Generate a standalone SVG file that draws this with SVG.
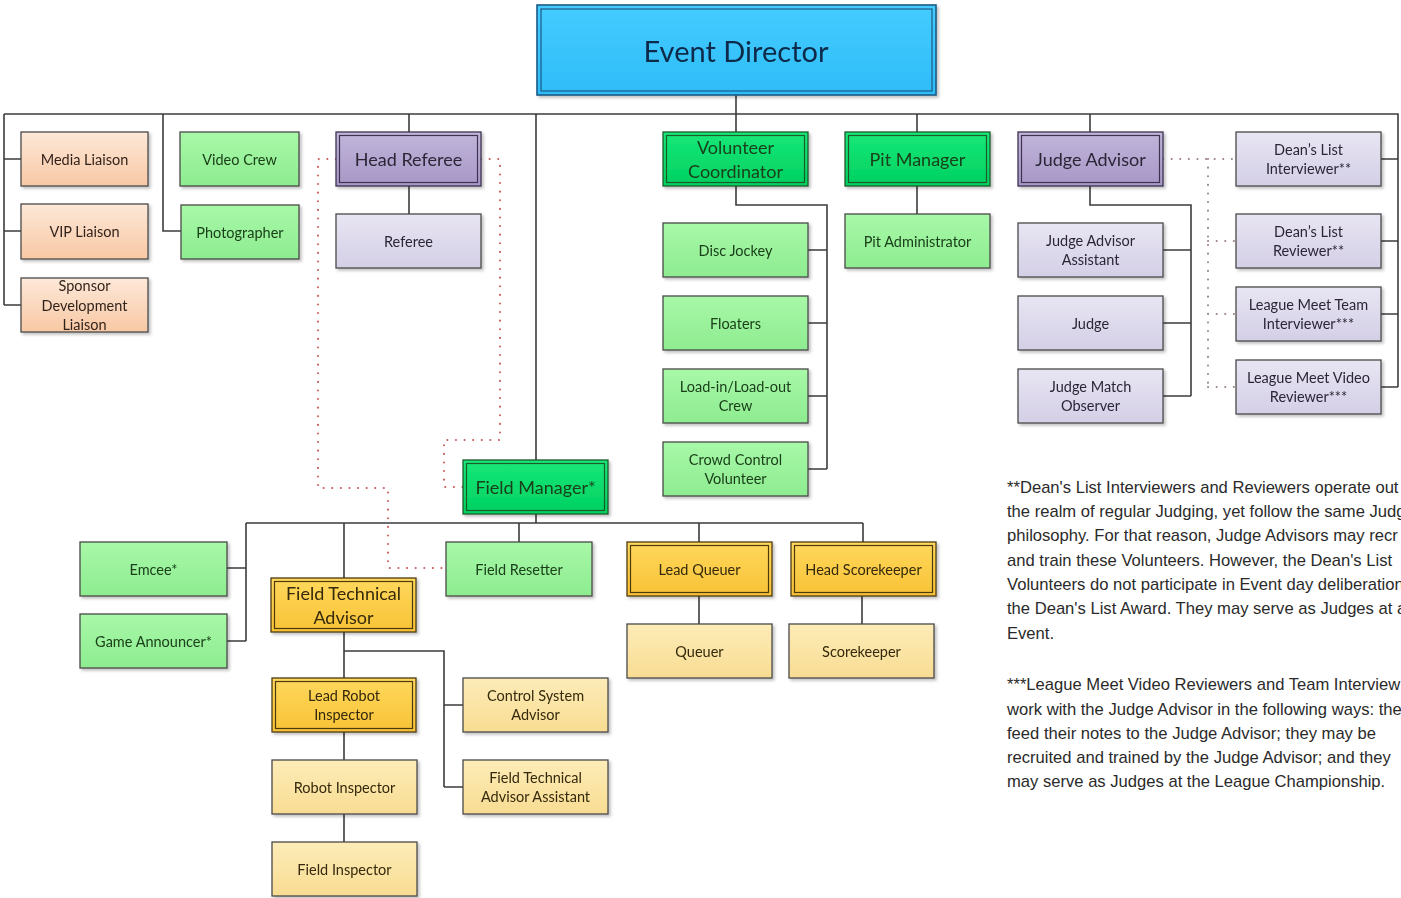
<svg xmlns="http://www.w3.org/2000/svg" width="1401" height="898" viewBox="0 0 1401 898">
<style>
.bx{stroke:#4a4a4a;stroke-width:1.3}
.in{fill:none;stroke-width:1.2}
.t{font-family:Lato,"Liberation Sans",sans-serif;font-size:14.5px;text-anchor:middle;dominant-baseline:central}
.h{font-size:18px}
.peach{fill:url(#gPeach)}
.lg{fill:url(#gLG)}
.dg{fill:url(#gDG);stroke:#1d5a2a}
.pu{fill:url(#gPU);stroke:#3d3350}
.lp{fill:url(#gLP)}
.or{fill:url(#gOR);stroke:#4d3b10}
.lo{fill:url(#gLO)}
.tg{fill:#1a401a}
.tp{fill:#2a2636}
.to{fill:#34290c}
.tb{fill:#33241c}
.c{fill:none;stroke:#3c3c3c;stroke-width:1.6}
.d{fill:none;stroke:#c85a5a;stroke-width:2;stroke-dasharray:0.1 8.5;stroke-linecap:round}
.dj{fill:none;stroke:#9a8080;stroke-width:2;stroke-dasharray:0.1 8.5;stroke-linecap:round}
.note{font-family:"Liberation Sans",Arial,sans-serif;font-size:16.6px;fill:#2a2a2a}
</style>
<defs>
<linearGradient id="gPeach" x1="0" y1="0" x2="0" y2="1"><stop offset="0" stop-color="#fde8d8"/><stop offset="1" stop-color="#f8c8a4"/></linearGradient>
<linearGradient id="gLG" x1="0" y1="0" x2="0" y2="1"><stop offset="0" stop-color="#a8f8a8"/><stop offset="1" stop-color="#8eec90"/></linearGradient>
<linearGradient id="gDG" x1="0" y1="0" x2="0" y2="1"><stop offset="0" stop-color="#16e878"/><stop offset="1" stop-color="#00d060"/></linearGradient>
<linearGradient id="gPU" x1="0" y1="0" x2="0" y2="1"><stop offset="0" stop-color="#c2b6da"/><stop offset="1" stop-color="#a696c6"/></linearGradient>
<linearGradient id="gLP" x1="0" y1="0" x2="0" y2="1"><stop offset="0" stop-color="#e8e5f3"/><stop offset="1" stop-color="#d4cfe6"/></linearGradient>
<linearGradient id="gOR" x1="0" y1="0" x2="0" y2="1"><stop offset="0" stop-color="#ffd85c"/><stop offset="1" stop-color="#f8c236"/></linearGradient>
<linearGradient id="gLO" x1="0" y1="0" x2="0" y2="1"><stop offset="0" stop-color="#fdecb8"/><stop offset="1" stop-color="#f8dc92"/></linearGradient>
<linearGradient id="gED" x1="0" y1="0" x2="0" y2="1"><stop offset="0" stop-color="#44ccff"/><stop offset="1" stop-color="#2ebcf8"/></linearGradient>
<filter id="sh" x="-10%" y="-10%" width="130%" height="140%"><feDropShadow dx="2" dy="2" stdDeviation="1.5" flood-color="#000" flood-opacity="0.25"/></filter>
</defs>
<rect width="1401" height="898" fill="#ffffff"/>

<g id="connectors">
<path class="c" d="M736,95 V114 M4,114 H1398 V387 M1381,159 H1398 M1381,241 H1398 M1381,314 H1398 M1381,387 H1398"/>
<path class="c" d="M4,114 V305 M4,159 H21 M4,231 H21 M4,305 H21 M163,114 V231 H181"/>
<path class="c" d="M409,114 V132 M409,186 V214 M536,114 V460"/>
<path class="c" d="M736,114 V132 M736,186 V205 H827 V469 M808,250 H827 M808,323 H827 M808,396 H827 M808,469 H827"/>
<path class="c" d="M917,114 V132 M917,186 V214"/>
<path class="c" d="M1090,114 V132 M1090,186 V205 H1191 V396 M1163,250 H1191 M1163,323 H1191 M1163,396 H1191"/>
<path class="c" d="M536,514 V523 M246,523 H863 M246,523 V641 M227,568 H246 M227,641 H246"/>
<path class="c" d="M344,523 V578 M519,523 V542 M699,523 V542 M863,523 V542 M699,596 V624 M862,596 V624"/>
<path class="c" d="M344,632 V678 M344,651 H444 V787 M444,705 H463 M444,787 H463 M344,732 V760 M344,814 V842"/>
<path class="d" d="M336,159 H318 V488 H388 V568 H446"/>
<path class="d" d="M481,159 H500 V440 H444 V487 H463"/>
<path class="dj" d="M1163,159 H1236 M1208,159 V387 M1208,241 H1236 M1208,314 H1236 M1208,387 H1236"/>
</g>

<g id="event-director" filter="url(#sh)">
<rect x="537" y="5" width="399" height="90" fill="url(#gED)" stroke="#1c5a88" stroke-width="1.6"/>
<rect x="541" y="9" width="391" height="82" class="in" stroke="#1c5a88"/>
<text x="736" y="50" class="t" style="font-size:29px;fill:#0e2a48">Event Director</text>
</g>

<g id="media-liaison" filter="url(#sh)"><rect x="21" y="132" width="127" height="54" class="bx peach"/><text x="84.5" y="159" class="t tb">Media Liaison</text></g>
<g id="vip-liaison" filter="url(#sh)"><rect x="21" y="204" width="127" height="55" class="bx peach"/><text x="84.5" y="231.5" class="t tb">VIP Liaison</text></g>
<g id="sponsor-liaison" filter="url(#sh)"><rect x="21" y="278" width="127" height="54" class="bx peach"/><text class="t tb"><tspan x="84.5" y="285">Sponsor</tspan><tspan x="84.5" y="305">Development</tspan><tspan x="84.5" y="324">Liaison</tspan></text></g>
<g id="video-crew" filter="url(#sh)"><rect x="180" y="132" width="119" height="54" class="bx lg"/><text x="239.5" y="159" class="t tg">Video Crew</text></g>
<g id="photographer" filter="url(#sh)"><rect x="181" y="205" width="118" height="54" class="bx lg"/><text x="240" y="232" class="t tg">Photographer</text></g>

<g id="head-referee" filter="url(#sh)"><rect x="336" y="132" width="145" height="54" class="bx pu" stroke-width="1.6"/><rect x="339.5" y="135.5" width="138" height="47" class="in" stroke="#3d3350"/><text x="408.5" y="159" class="t h tp">Head Referee</text></g>
<g id="referee" filter="url(#sh)"><rect x="336" y="214" width="145" height="54" class="bx lp"/><text x="408.5" y="241" class="t tp">Referee</text></g>

<g id="volunteer-coordinator" filter="url(#sh)"><rect x="663" y="132" width="145" height="54" class="bx dg" stroke-width="1.6"/><rect x="666.5" y="135.5" width="138" height="47" class="in" stroke="#1d5a2a"/><text class="t h tg"><tspan x="735.5" y="147">Volunteer</tspan><tspan x="735.5" y="171">Coordinator</tspan></text></g>
<g id="disc-jockey" filter="url(#sh)"><rect x="663" y="223" width="145" height="54" class="bx lg"/><text x="735.5" y="250" class="t tg">Disc Jockey</text></g>
<g id="floaters" filter="url(#sh)"><rect x="663" y="296" width="145" height="54" class="bx lg"/><text x="735.5" y="323" class="t tg">Floaters</text></g>
<g id="load-crew" filter="url(#sh)"><rect x="663" y="369" width="145" height="54" class="bx lg"/><text class="t tg"><tspan x="735.5" y="386">Load-in/Load-out</tspan><tspan x="735.5" y="405">Crew</tspan></text></g>
<g id="crowd-control" filter="url(#sh)"><rect x="663" y="442" width="145" height="54" class="bx lg"/><text class="t tg"><tspan x="735.5" y="459">Crowd Control</tspan><tspan x="735.5" y="478">Volunteer</tspan></text></g>

<g id="pit-manager" filter="url(#sh)"><rect x="845" y="132" width="145" height="54" class="bx dg" stroke-width="1.6"/><rect x="848.5" y="135.5" width="138" height="47" class="in" stroke="#1d5a2a"/><text x="917.5" y="159" class="t h tg">Pit Manager</text></g>
<g id="pit-administrator" filter="url(#sh)"><rect x="845" y="214" width="145" height="54" class="bx lg"/><text x="917.5" y="241" class="t tg">Pit Administrator</text></g>

<g id="judge-advisor" filter="url(#sh)"><rect x="1018" y="132" width="145" height="54" class="bx pu" stroke-width="1.6"/><rect x="1021.5" y="135.5" width="138" height="47" class="in" stroke="#3d3350"/><text x="1090.5" y="159" class="t h tp">Judge Advisor</text></g>
<g id="judge-advisor-assistant" filter="url(#sh)"><rect x="1018" y="223" width="145" height="54" class="bx lp"/><text class="t tp"><tspan x="1090.5" y="240">Judge Advisor</tspan><tspan x="1090.5" y="259">Assistant</tspan></text></g>
<g id="judge" filter="url(#sh)"><rect x="1018" y="296" width="145" height="54" class="bx lp"/><text x="1090.5" y="323" class="t tp">Judge</text></g>
<g id="judge-match-observer" filter="url(#sh)"><rect x="1018" y="369" width="145" height="54" class="bx lp"/><text class="t tp"><tspan x="1090.5" y="386">Judge Match</tspan><tspan x="1090.5" y="405">Observer</tspan></text></g>

<g id="deans-list-interviewer" filter="url(#sh)"><rect x="1236" y="132" width="145" height="54" class="bx lp"/><text class="t tp"><tspan x="1308.5" y="149">Dean’s List</tspan><tspan x="1308.5" y="168">Interviewer**</tspan></text></g>
<g id="deans-list-reviewer" filter="url(#sh)"><rect x="1236" y="214" width="145" height="54" class="bx lp"/><text class="t tp"><tspan x="1308.5" y="231">Dean’s List</tspan><tspan x="1308.5" y="250">Reviewer**</tspan></text></g>
<g id="league-team-interviewer" filter="url(#sh)"><rect x="1236" y="287" width="145" height="54" class="bx lp"/><text class="t tp"><tspan x="1308.5" y="304">League Meet Team</tspan><tspan x="1308.5" y="323">Interviewer***</tspan></text></g>
<g id="league-video-reviewer" filter="url(#sh)"><rect x="1236" y="360" width="145" height="54" class="bx lp"/><text class="t tp"><tspan x="1308.5" y="377">League Meet Video</tspan><tspan x="1308.5" y="396">Reviewer***</tspan></text></g>

<g id="field-manager" filter="url(#sh)"><rect x="463" y="460" width="145" height="54" class="bx dg" stroke-width="1.6"/><rect x="466.5" y="463.5" width="138" height="47" class="in" stroke="#1d5a2a"/><text x="535.5" y="487" class="t h tg">Field Manager*</text></g>
<g id="emcee" filter="url(#sh)"><rect x="80" y="542" width="147" height="54" class="bx lg"/><text x="153.5" y="569" class="t tg">Emcee*</text></g>
<g id="game-announcer" filter="url(#sh)"><rect x="80" y="614" width="147" height="54" class="bx lg"/><text x="153.5" y="641" class="t tg">Game Announcer*</text></g>
<g id="field-technical-advisor" filter="url(#sh)"><rect x="271" y="578" width="145" height="54" class="bx or" stroke-width="1.6"/><rect x="274.5" y="581.5" width="138" height="47" class="in" stroke="#4d3b10"/><text class="t h to"><tspan x="343.5" y="593">Field Technical</tspan><tspan x="343.5" y="617">Advisor</tspan></text></g>
<g id="field-resetter" filter="url(#sh)"><rect x="446" y="542" width="146" height="54" class="bx lg"/><text x="519" y="569" class="t tg">Field Resetter</text></g>
<g id="lead-queuer" filter="url(#sh)"><rect x="627" y="542" width="145" height="54" class="bx or" stroke-width="1.6"/><rect x="630.5" y="545.5" width="138" height="47" class="in" stroke="#4d3b10"/><text x="699.5" y="569" class="t to">Lead Queuer</text></g>
<g id="head-scorekeeper" filter="url(#sh)"><rect x="791" y="542" width="145" height="54" class="bx or" stroke-width="1.6"/><rect x="794.5" y="545.5" width="138" height="47" class="in" stroke="#4d3b10"/><text x="863.5" y="569" class="t to">Head Scorekeeper</text></g>
<g id="queuer" filter="url(#sh)"><rect x="627" y="624" width="145" height="54" class="bx lo"/><text x="699.5" y="651" class="t to">Queuer</text></g>
<g id="scorekeeper" filter="url(#sh)"><rect x="789" y="624" width="145" height="54" class="bx lo"/><text x="861.5" y="651" class="t to">Scorekeeper</text></g>
<g id="lead-robot-inspector" filter="url(#sh)"><rect x="272" y="678" width="144" height="54" class="bx or" stroke-width="1.6"/><rect x="275.5" y="681.5" width="137" height="47" class="in" stroke="#4d3b10"/><text class="t to"><tspan x="344" y="695">Lead Robot</tspan><tspan x="344" y="714">Inspector</tspan></text></g>
<g id="control-system-advisor" filter="url(#sh)"><rect x="463" y="678" width="145" height="54" class="bx lo"/><text class="t to"><tspan x="535.5" y="695">Control System</tspan><tspan x="535.5" y="714">Advisor</tspan></text></g>
<g id="robot-inspector" filter="url(#sh)"><rect x="272" y="760" width="145" height="54" class="bx lo"/><text x="344.5" y="787" class="t to">Robot Inspector</text></g>
<g id="fta-assistant" filter="url(#sh)"><rect x="463" y="760" width="145" height="54" class="bx lo"/><text class="t to"><tspan x="535.5" y="777">Field Technical</tspan><tspan x="535.5" y="796">Advisor Assistant</tspan></text></g>
<g id="field-inspector" filter="url(#sh)"><rect x="272" y="842" width="145" height="54" class="bx lo"/><text x="344.5" y="869" class="t to">Field Inspector</text></g>

<g id="notes">
<text class="note"><tspan x="1007" y="493">**Dean's List Interviewers and Reviewers operate out</tspan><tspan x="1007" y="517">the realm of regular Judging, yet follow the same Judg</tspan><tspan x="1007" y="541">philosophy. For that reason, Judge Advisors may recr</tspan><tspan x="1007" y="565.5">and train these Volunteers. However, the Dean's List</tspan><tspan x="1007" y="590">Volunteers do not participate in Event day deliberation</tspan><tspan x="1007" y="614">the Dean's List Award. They may serve as Judges at a</tspan><tspan x="1007" y="638.5">Event.</tspan></text>
<text class="note"><tspan x="1007" y="690">***League Meet Video Reviewers and Team Interview</tspan><tspan x="1007" y="714.5">work with the Judge Advisor in the following ways: the</tspan><tspan x="1007" y="738.5">feed their notes to the Judge Advisor; they may be</tspan><tspan x="1007" y="763">recruited and trained by the Judge Advisor; and they</tspan><tspan x="1007" y="787">may serve as Judges at the League Championship.</tspan></text>
</g>
</svg>
